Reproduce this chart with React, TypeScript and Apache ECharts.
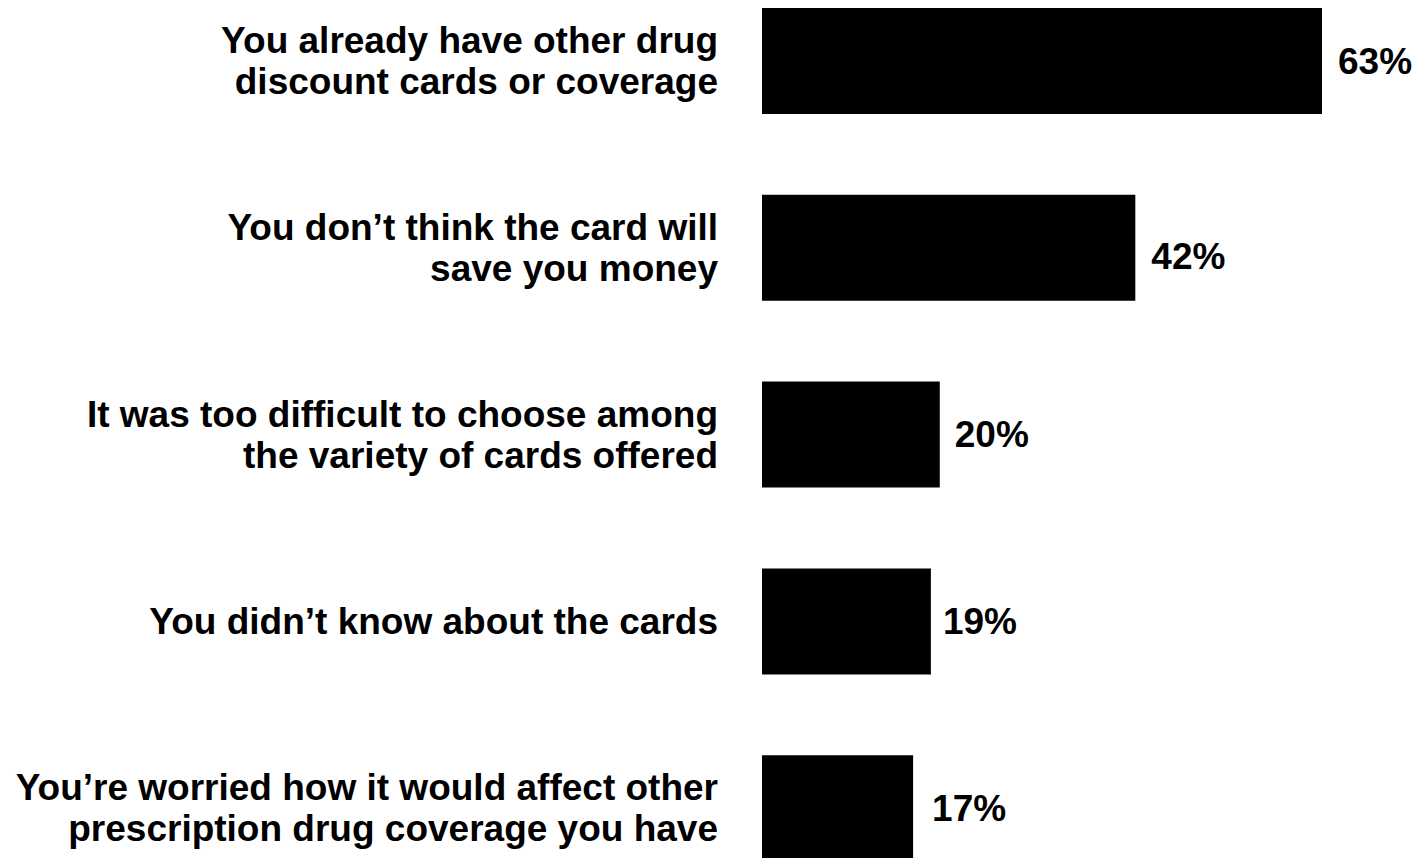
import React, { useEffect, useRef } from "react";
import * as echarts from "echarts";

const categories = [
  "You already have other drug\ndiscount cards or coverage",
  "You don’t think the card will\nsave you money",
  "It was too difficult to choose among\nthe variety of cards offered",
  "You didn’t know about the cards",
  "You’re worried how it would affect other\nprescription drug coverage you have",
];
const values = [63, 42, 20, 19, 17];
const labelDistances = [16, 16, 15, 12, 19];
const labelOffsetsY = [0, 9, 0, 0, 0];

const FONT = "'Liberation Sans', Arial, Helvetica, sans-serif";

export default function App() {
  const ref = useRef<HTMLDivElement>(null);
  useEffect(() => {
    if (!ref.current) return;
    const chart = echarts.init(ref.current, null, { renderer: "svg" });
    chart.setOption({
      animation: false,
      backgroundColor: "#ffffff",
      grid: { left: 762, right: 36.8, top: 7.6, bottom: 18.4, containLabel: false },
      xAxis: {
        type: "value",
        min: 0,
        max: 70,
        show: false,
        splitLine: { show: false },
      },
      yAxis: {
        type: "category",
        inverse: true,
        data: categories,
        axisLine: { show: false },
        axisTick: { show: false },
        splitLine: { show: false },
        axisLabel: {
          color: "#000000",
          fontFamily: FONT,
          fontWeight: "bold",
          fontSize: 37,
          lineHeight: 41,
          align: "right",
          margin: 44,
        },
      },
      series: [
        {
          type: "bar",
          barWidth: 106,
          itemStyle: { color: "#000000" },
          data: values.map((v, i) => ({
            value: v,
            label: {
              show: true,
              position: "right",
              distance: labelDistances[i],
              offset: [0, labelOffsetsY[i]],
              formatter: "{c}%",
              color: "#000000",
              fontFamily: FONT,
              fontWeight: "bold",
              fontSize: 37,
            },
          })),
        },
      ],
    });
    return () => chart.dispose();
  }, []);
  return (
    <div
      style={{
        position: "fixed",
        left: 0,
        top: 0,
        width: 1421,
        height: 858,
        overflow: "hidden",
        background: "#ffffff",
      }}
    >
      <div
        ref={ref}
        style={{ position: "absolute", left: 0, top: -40, width: 1421, height: 960 }}
      />
    </div>
  );
}
